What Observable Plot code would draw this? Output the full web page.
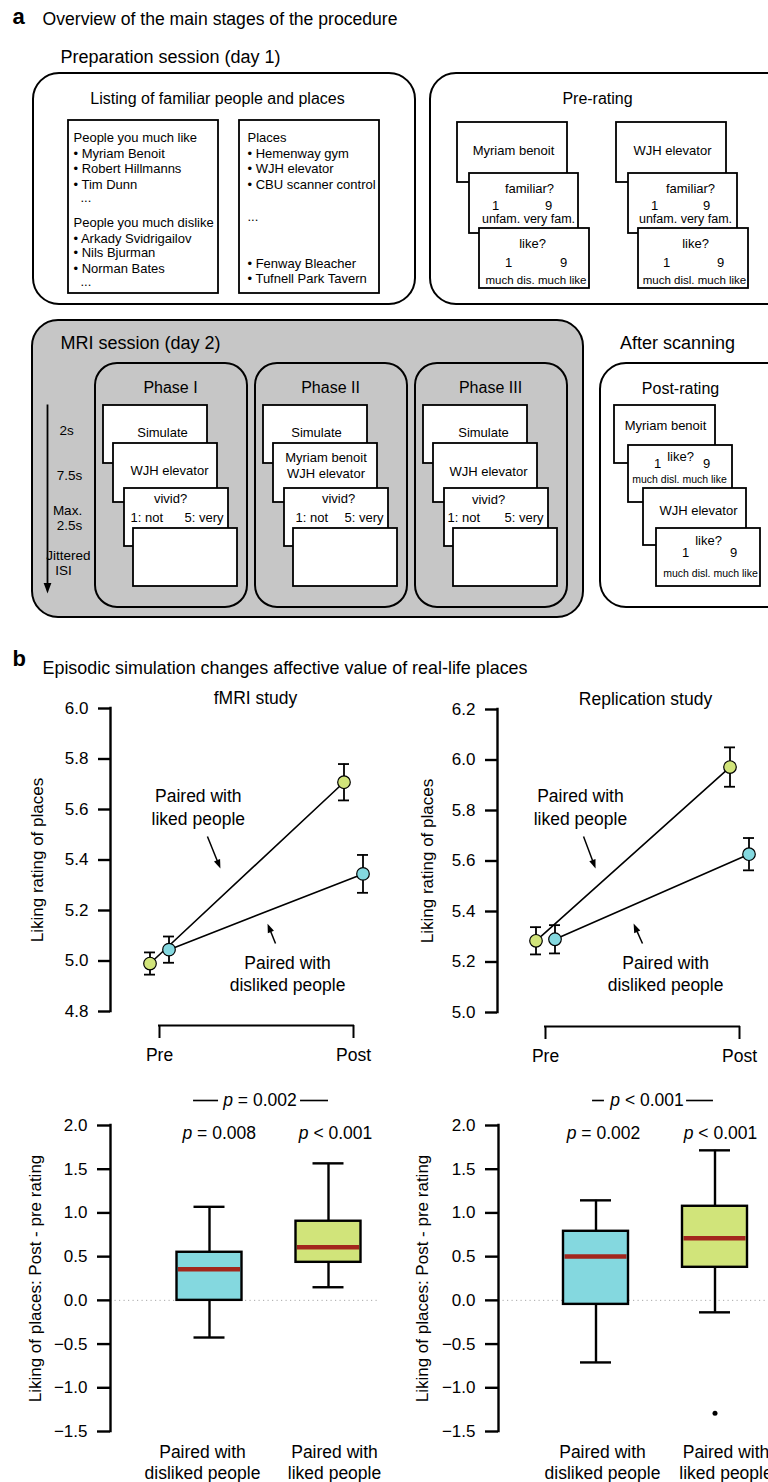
<!DOCTYPE html>
<html>
<head>
<meta charset="utf-8">
<script src="https://cdn.jsdelivr.net/npm/d3@7"></script>
<script src="https://cdn.jsdelivr.net/npm/@observablehq/plot@0.6"></script>
<style>
html, body { margin: 0; padding: 0; background: #fff; overflow: hidden; }
#fig { position: relative; width: 768px; height: 1482px; overflow: hidden; background: #fff; }
.panel { position: absolute; }
</style>
</head>
<body>
<div id="fig"></div>
<script>
// ================= DATA (panel b) =================
const stages = ["Pre", "Post"];
// fMRI study: mean liking rating of places (± s.e.m.)
const fmriLikedMean = [4.99, 5.708];
const fmriLikedSem = [0.044, 0.072];
const fmriDislikedMean = [5.045, 5.345];
const fmriDislikedSem = [0.052, 0.075];
// Replication study
const replLikedMean = [5.284, 5.972];
const replLikedSem = [0.054, 0.078];
const replDislikedMean = [5.29, 5.627];
const replDislikedSem = [0.056, 0.064];
const fmriTicks = [4.8, 5.0, 5.2, 5.4, 5.6, 5.8, 6.0];
const replTicks = [5.0, 5.2, 5.4, 5.6, 5.8, 6.0, 6.2];

// Box plots of post - pre rating
const boxCategories = ["Paired with\ndisliked people", "Paired with\nliked people"];
const fmriLow = [-0.425, 0.15];
const fmriQ1 = [0.0, 0.435];
const fmriMedian = [0.355, 0.607];
const fmriQ3 = [0.55, 0.905];
const fmriHigh = [1.07, 1.567];
const replLow = [-0.71, -0.137];
const replQ1 = [-0.046, 0.378];
const replMedian = [0.503, 0.71];
const replQ3 = [0.79, 1.076];
const replHigh = [1.144, 1.716];
const replOutlierGroup = [1];
const replOutlierValue = [-1.29];
const diffTicks = [-1.5, -1.0, -0.5, 0.0, 0.5, 1.0, 1.5, 2.0];
const fmriPBetween = "p = 0.002";
const fmriPWithin = ["p = 0.008", "p < 0.001"];
const replPBetween = "p < 0.001";
const replPWithin = ["p = 0.002", "p < 0.001"];

// ================= STYLE =================
const FONT = '"Liberation Sans", Arial, Helvetica, sans-serif';
const GREEN = "#d1e47a", BLUE = "#84d8df", RED = "#a3261d", GREY = "#c6c6c6";
const TXT = 17.5;
const fig = document.getElementById("fig");

function place(node, left, top) {
  const d = document.createElement("div");
  d.className = "panel";
  d.style.left = left + "px";
  d.style.top = top + "px";
  d.appendChild(node);
  fig.appendChild(d);
  return node;
}
const baseStyle = {fontFamily: FONT, fontSize: "17px", background: "transparent", overflow: "visible", maxWidth: "none", color: "black"};

// arrow-head symbol with its tip at the origin, pointing up
const headSymbol = {
  draw(ctx, size) {
    const r = Math.sqrt(size / Math.PI);
    ctx.moveTo(0, 0);
    ctx.lineTo(1.1 * r, 3 * r);
    ctx.lineTo(-1.1 * r, 3 * r);
    ctx.closePath();
  }
};

// ================= PANEL a (schematic) =================
const roundBoxes = [
  {x1: 33, y1: 73, x2: 415, y2: 304, fill: "white"},
  {x1: 430, y1: 73, x2: 800, y2: 304, fill: "white"},
  {x1: 32, y1: 320, x2: 583, y2: 617, fill: GREY},
  {x1: 600, y1: 363, x2: 800, y2: 607, fill: "white"}
];
const phaseBoxes = [0, 1, 2].map(k => ({x1: 95 + 160 * k, y1: 363, x2: 247 + 160 * k, y2: 607}));
const cardsBase = [[103, 405, 207, 463], [113, 443, 217, 502], [124, 488, 228, 546], [133, 528, 237, 586]];
const cards = [
  [68, 120, 218, 293], [239, 120, 379, 293],
  ...[0, 159].flatMap(o => [[457 + o, 122, 567 + o, 182], [469 + o, 173, 578 + o, 233], [479 + o, 228, 589 + o, 288]]),
  ...[0, 160, 320].flatMap(o => cardsBase.map(c => [c[0] + o, c[1], c[2] + o, c[3]])),
  [614, 405, 715, 463], [628, 445, 732, 502], [643, 488, 746, 545], [656, 528, 760, 586]
].map(([x1, y1, x2, y2]) => ({x1, y1, x2, y2}));

const startTexts = [
  ["Overview of the main stages of the procedure", 42, 18.5, 17.6],
  ["Preparation session (day 1)", 60, 57, 18],
  ["People you much like", 73, 137, 13],
  ["• Myriam Benoit", 73, 153.5, 13],
  ["• Robert Hillmanns", 73, 168.5, 13],
  ["• Tim Dunn", 73, 184, 13],
  ["...", 80, 197, 13],
  ["People you much dislike", 73, 222, 13],
  ["• Arkady Svidrigailov", 73, 238, 13],
  ["• Nils Bjurman", 73, 252.5, 13],
  ["• Norman Bates", 73, 268, 13],
  ["...", 80, 281, 13],
  ["Places", 247, 137, 13],
  ["• Hemenway gym", 247, 153.5, 13],
  ["• WJH elevator", 247, 168.5, 13],
  ["• CBU scanner control", 247, 184, 13],
  ["...", 247, 216, 13],
  ["• Fenway Bleacher", 247, 263, 13],
  ["• Tufnell Park Tavern", 247, 278, 13],
  ["MRI session (day 2)", 60, 343, 18],
  ["1: not", 130, 517, 13], ["1: not", 295, 517, 13], ["1: not", 447, 517, 13],
  ["Episodic simulation changes affective value of real-life places", 42, 667.5, 17.9]
];
const endTexts = [["5: very", 223, 517, 13], ["5: very", 383, 517, 13], ["5: very", 543, 517, 13]];
const middleTexts = [
  ["Listing of familiar people and places", 217, 98, 16],
  ["Pre-rating", 597, 98, 16],
  ["Myriam benoit", 513, 150, 13], ["familiar?", 529, 188, 13], ["1", 495, 205, 13], ["9", 548, 205, 13],
  ["unfam. very fam.", 528, 218.5, 12.5], ["like?", 532, 243, 13], ["1", 508, 262, 13], ["9", 563, 262, 13],
  ["much dis. much like", 535.5, 280, 11.5],
  ["WJH elevator", 672, 150, 13], ["familiar?", 690, 188, 13], ["1", 654, 205, 13], ["9", 706, 205, 13],
  ["unfam. very fam.", 685, 218.5, 12.5], ["like?", 695, 243, 13], ["1", 666, 262, 13], ["9", 720, 262, 13],
  ["much disl. much like", 694, 280, 11.5],
  ["Phase I", 170, 387, 16], ["Phase II", 330, 387, 16], ["Phase III", 490, 387, 16],
  ["2s", 66, 430, 13.5], ["7.5s", 69, 475, 13.5], ["Max.", 67, 510, 13.5], ["2.5s", 69, 525, 13.5],
  ["Jittered", 68, 555, 13.5], ["ISI", 63, 570, 13.5],
  ["Simulate", 162, 432, 13], ["WJH elevator", 169, 470, 13], ["vivid?", 170, 498, 13],
  ["Simulate", 316, 432, 13], ["Myriam benoit", 325.5, 457, 13], ["WJH elevator", 325.5, 473, 13], ["vivid?", 338, 498, 13],
  ["Simulate", 483, 432, 13], ["WJH elevator", 488, 471, 13], ["vivid?", 488, 499, 13],
  ["After scanning", 677, 343, 18], ["Post-rating", 680, 388, 16],
  ["Myriam benoit", 665, 425, 13], ["like?", 680, 456, 13], ["1", 657, 463, 13], ["9", 706, 463, 13],
  ["much disl. much like", 679, 479, 10.5],
  ["WJH elevator", 698, 510, 13], ["like?", 708, 540, 13], ["1", 685, 552, 13], ["9", 733, 552, 13],
  ["much disl. much like", 710, 573, 10.5]
];
const boldTexts = [["a", 12, 16, 22], ["b", 12, 658, 22]];
const toObj = ([text, x, y, size]) => ({text, x, y, size});

const panelA = Plot.plot({
  width: 768, height: 680, margin: 0,
  x: {type: "identity", axis: null}, y: {type: "identity", axis: null},
  style: baseStyle,
  marks: [
    Plot.rect(roundBoxes.filter(d => d.fill === "white"), {x1: "x1", x2: "x2", y1: "y1", y2: "y2", rx: 26, fill: "white", stroke: "black", strokeWidth: 2}),
    Plot.rect(roundBoxes.filter(d => d.fill !== "white"), {x1: "x1", x2: "x2", y1: "y1", y2: "y2", rx: 26, fill: GREY, stroke: "black", strokeWidth: 2}),
    Plot.rect(phaseBoxes, {x1: "x1", x2: "x2", y1: "y1", y2: "y2", rx: 22, fill: GREY, stroke: "black", strokeWidth: 2}),
    Plot.rect(cards, {x1: "x1", x2: "x2", y1: "y1", y2: "y2", fill: "white", stroke: "black", strokeWidth: 1.8}),
    Plot.link([{x1: 47, y1: 404, x2: 47, y2: 584}], {x1: "x1", y1: "y1", x2: "x2", y2: "y2", stroke: "black", strokeWidth: 1.8}),
    Plot.dot([{x: 47, y: 593}], {x: "x", y: "y", symbol: headSymbol, r: 3.5, rotate: 180, fill: "black", stroke: "none"}),
    Plot.text(startTexts.map(toObj), {x: "x", y: "y", text: "text", fontSize: d => d.size, textAnchor: "start", fill: "black"}),
    Plot.text(endTexts.map(toObj), {x: "x", y: "y", text: "text", fontSize: d => d.size, textAnchor: "end", fill: "black"}),
    Plot.text(middleTexts.map(toObj), {x: "x", y: "y", text: "text", fontSize: d => d.size, textAnchor: "middle", fill: "black"}),
    Plot.text(boldTexts.map(toObj), {x: "x", y: "y", text: "text", fontSize: d => d.size, textAnchor: "start", fontWeight: "bold", fill: "black"})
  ]
});
place(panelA, 0, 0);

// ================= PANEL b helpers =================
function arrowMarks(a, ux, uy) {
  const dxp = (a.x2 - a.x1) / ux, dyp = -(a.y2 - a.y1) / uy;
  const len = Math.hypot(dxp, dyp);
  const angle = Math.atan2(dxp, -dyp) * 180 / Math.PI;
  const back = 3;
  const ex = a.x2 - (dxp / len) * back * ux, ey = a.y2 + (dyp / len) * back * uy;
  return [
    Plot.link([a], {x1: "x1", y1: "y1", x2: () => ex, y2: () => ey, stroke: "black", strokeWidth: 1.5}),
    Plot.dot([a], {x: "x2", y: "y2", symbol: headSymbol, r: 3, rotate: angle, fill: "black", stroke: "none"})
  ];
}

function linePlot(cfg) {
  const {title, ylabel, likedMean, likedSem, dislikedMean, dislikedSem, ticks,
         width, height, marginTop, marginBottom, marginLeft, marginRight,
         preX, pxPerStage, titleDx, labelDx, notes, arrows} = cfg;
  const yMin = d3.min(ticks), yMax = d3.max(ticks);
  const uy = (yMax - yMin) / (height - marginTop - marginBottom);
  const ux = 1 / pxPerStage;
  const xDomain = [(marginLeft - preX) * ux, (width - marginRight - preX) * ux];
  const dodge = 9.5 * ux, cap = 5.5 * ux;
  const rows = stages.flatMap((s, i) => [
    {g: "liked", x: i - dodge, mean: likedMean[i], sem: likedSem[i]},
    {g: "disliked", x: i + dodge, mean: dislikedMean[i], sem: dislikedSem[i]}
  ]);
  const ebw = 1.8;
  return Plot.plot({
    width, height, marginTop, marginBottom, marginLeft, marginRight,
    x: {domain: xDomain, axis: null},
    y: {domain: [yMin, yMax]},
    style: baseStyle,
    marks: [
      Plot.ruleX([xDomain[0]], {y1: yMin, y2: yMax, stroke: "black", strokeWidth: 2.4, strokeLinecap: "square"}),
      Plot.axisY({ticks, tickFormat: d3.format(".1f"), tickSize: 12, tickPadding: 10, strokeWidth: 2.4, fontSize: 17, label: null}),
      Plot.text([ylabel], {frameAnchor: "left", dx: labelDx, rotate: -90, textAnchor: "middle", lineAnchor: "middle", fontSize: 17, fill: "black"}),
      Plot.text([title], {frameAnchor: "top", dx: titleDx, dy: -10, textAnchor: "middle", lineAnchor: "middle", fontSize: TXT, fill: "black"}),
      Plot.ruleY([yMin - 14 * uy], {x1: 0, x2: stages.length - 1, stroke: "black", strokeWidth: 2, strokeLinecap: "square"}),
      Plot.ruleX(stages.map((s, i) => i), {y1: yMin - 14 * uy, y2: yMin - 27 * uy, stroke: "black", strokeWidth: 2}),
      Plot.text(stages, {x: (d, i) => i, y: yMin - 44 * uy, text: d => d, fontSize: TXT, fill: "black"}),
      Plot.line(rows, {x: "x", y: "mean", z: "g", stroke: "black", strokeWidth: 1.6}),
      Plot.ruleX(rows, {x: "x", y1: d => d.mean - d.sem, y2: d => d.mean + d.sem, stroke: "black", strokeWidth: ebw}),
      Plot.ruleY(rows, {y: d => d.mean + d.sem, x1: d => d.x - cap, x2: d => d.x + cap, stroke: "black", strokeWidth: ebw}),
      Plot.ruleY(rows, {y: d => d.mean - d.sem, x1: d => d.x - cap, x2: d => d.x + cap, stroke: "black", strokeWidth: ebw}),
      Plot.dot(rows.filter(d => d.g === "liked"), {x: "x", y: "mean", r: 6.3, fill: GREEN, stroke: "black", strokeWidth: 1.2}),
      Plot.dot(rows.filter(d => d.g === "disliked"), {x: "x", y: "mean", r: 6.3, fill: BLUE, stroke: "black", strokeWidth: 1.2}),
      Plot.text(notes, {x: "x", y: "y", text: "text", fontSize: TXT, lineHeight: 1.28, fill: "black"}),
      ...arrows.flatMap(a => arrowMarks(a, ux, uy))
    ]
  });
}

function boxPlot(cfg) {
  const {low, q1, med, q3, high, outGroup, outValue, pBetween, pWithin, ticks,
         width, height, marginTop, marginBottom, marginLeft, marginRight,
         firstX, pxPerGroup, labelDx, labelShiftPx, pl} = cfg;
  const yMin = d3.min(ticks), yMax = d3.max(ticks);
  const uy = (yMax - yMin) / (height - marginTop - marginBottom);
  const ux = 1 / pxPerGroup;
  const xDomain = [(marginLeft - firstX) * ux, (width - marginRight - firstX) * ux];
  const half = 32.5 * ux, cap = 15.5 * ux, inset = 1.5 * ux;
  const rows = boxCategories.map((c, i) => ({i, low: low[i], q1: q1[i], med: med[i], q3: q3[i], high: high[i]}));
  const outliers = outGroup.map((g, k) => ({i: g, v: outValue[k]}));
  const lw = 2.4;
  const yTop = yMax + 25 * uy, yRow = yMax - 8 * uy;
  return Plot.plot({
    width, height, marginTop, marginBottom, marginLeft, marginRight,
    x: {domain: xDomain, axis: null},
    y: {domain: [yMin, yMax]},
    style: baseStyle,
    marks: [
      Plot.ruleY([0], {stroke: "#a8a8a8", strokeWidth: 1, strokeDasharray: "1.2,3.3"}),
      Plot.ruleX([xDomain[0]], {y1: yMin, y2: yMax, stroke: "black", strokeWidth: lw, strokeLinecap: "square"}),
      Plot.axisY({ticks, tickFormat: d3.format(".1f"), tickSize: 13, tickPadding: 10, strokeWidth: lw, fontSize: 17, label: null}),
      Plot.text(["Liking of places: Post - pre rating"], {frameAnchor: "left", dx: labelDx, rotate: -90, textAnchor: "middle", lineAnchor: "middle", fontSize: 17, fill: "black"}),
      Plot.ruleX(rows, {x: "i", y1: "low", y2: "q1", stroke: "black", strokeWidth: lw}),
      Plot.ruleX(rows, {x: "i", y1: "q3", y2: "high", stroke: "black", strokeWidth: lw}),
      Plot.ruleY(rows, {y: "low", x1: d => d.i - cap, x2: d => d.i + cap, stroke: "black", strokeWidth: lw}),
      Plot.ruleY(rows, {y: "high", x1: d => d.i - cap, x2: d => d.i + cap, stroke: "black", strokeWidth: lw}),
      Plot.rect(rows.filter(d => d.i === 0), {x1: d => d.i - half, x2: d => d.i + half, y1: "q1", y2: "q3", fill: BLUE}),
      Plot.rect(rows.filter(d => d.i === 1), {x1: d => d.i - half, x2: d => d.i + half, y1: "q1", y2: "q3", fill: GREEN}),
      Plot.ruleY(rows, {y: "med", x1: d => d.i - half + inset, x2: d => d.i + half - inset, stroke: RED, strokeWidth: 4.5}),
      Plot.rect(rows, {x1: d => d.i - half, x2: d => d.i + half, y1: "q1", y2: "q3", fill: "none", stroke: "black", strokeWidth: lw}),
      Plot.dot(outliers, {x: "i", y: "v", r: 2.5, fill: "black", stroke: "none"}),
      Plot.text([pBetween], {x: pl.betweenX, y: yTop, text: d => d, fontSize: TXT, fill: "black"}),
      Plot.ruleY([yTop, yTop], {x1: (d, k) => pl.rules[k][0], x2: (d, k) => pl.rules[k][1], stroke: "black", strokeWidth: 1.6}),
      Plot.text(pWithin, {x: (d, k) => pl.withinX[k], y: yRow, text: d => d, fontSize: TXT, fill: "black"}),
      Plot.text(boxCategories, {x: (d, i) => i + labelShiftPx[i] * ux, y: yMin - 30.5 * uy, text: d => d, fontSize: TXT, lineHeight: 1.2, fill: "black"})
    ]
  });
}

function italicP(svg) {
  d3.select(svg).selectAll("text").each(function () {
    const t = this.textContent;
    if (/^p [=<] /.test(t) && this.children.length === 0) {
      const sel = d3.select(this);
      sel.text(null);
      sel.append("tspan").attr("font-style", "italic").text("p");
      sel.append("tspan").text(t.slice(1));
    }
  });
}

// ================= PANEL b charts =================
place(linePlot({
  title: "fMRI study", ylabel: "Liking rating of places",
  likedMean: fmriLikedMean, likedSem: fmriLikedSem, dislikedMean: fmriDislikedMean, dislikedSem: fmriDislikedSem,
  ticks: fmriTicks, width: 390, height: 400, marginTop: 28, marginBottom: 69, marginLeft: 110, marginRight: 10,
  preX: 159, pxPerStage: 194, titleDx: 10, labelDx: -73,
  notes: [{x: 0.20, y: 5.612, text: "Paired with\nliked people"}, {x: 0.66, y: 4.954, text: "Paired with\ndisliked people"}],
  arrows: [{x1: 0.247, y1: 5.493, x2: 0.314, y2: 5.366}, {x1: 0.598, y1: 5.069, x2: 0.557, y2: 5.148}]
}), 0, 680);

place(linePlot({
  title: "Replication study", ylabel: "Liking rating of places",
  likedMean: replLikedMean, likedSem: replLikedSem, dislikedMean: replDislikedMean, dislikedSem: replDislikedSem,
  ticks: replTicks, width: 378, height: 400, marginTop: 29, marginBottom: 68, marginLeft: 107, marginRight: 0,
  preX: 155, pxPerStage: 194, titleDx: 12.5, labelDx: -70,
  notes: [{x: 0.18, y: 5.816, text: "Paired with\nliked people"}, {x: 0.619, y: 5.158, text: "Paired with\ndisliked people"}],
  arrows: [{x1: 0.196, y1: 5.697, x2: 0.258, y2: 5.570}, {x1: 0.5, y1: 5.273, x2: 0.454, y2: 5.352}]
}), 390, 680);

const bl = place(boxPlot({
  low: fmriLow, q1: fmriQ1, med: fmriMedian, q3: fmriQ3, high: fmriHigh, outGroup: [], outValue: [],
  pBetween: fmriPBetween, pWithin: fmriPWithin, ticks: diffTicks,
  width: 390, height: 397, marginTop: 40, marginBottom: 51, marginLeft: 110, marginRight: 10,
  firstX: 209, pxPerGroup: 119, labelDx: -75, labelShiftPx: [-7, 6],
  pl: {betweenX: 0.424, rules: [[-0.134, 0.076], [0.765, 1.0]], withinX: [0.082, 1.059]}
}), 0, 1085);
italicP(bl);

const br = place(boxPlot({
  low: replLow, q1: replQ1, med: replMedian, q3: replQ3, high: replHigh, outGroup: replOutlierGroup, outValue: replOutlierValue,
  pBetween: replPBetween, pWithin: replPWithin, ticks: diffTicks,
  width: 378, height: 397, marginTop: 40, marginBottom: 51, marginLeft: 108, marginRight: 0,
  firstX: 205.5, pxPerGroup: 119, labelDx: -76, labelShiftPx: [6.5, 11],
  pl: {betweenX: 0.429, rules: [[-0.029, 0.071], [0.761, 0.987]], withinX: [0.063, 1.046]}
}), 390, 1085);
italicP(br);
</script>
</body>
</html>
